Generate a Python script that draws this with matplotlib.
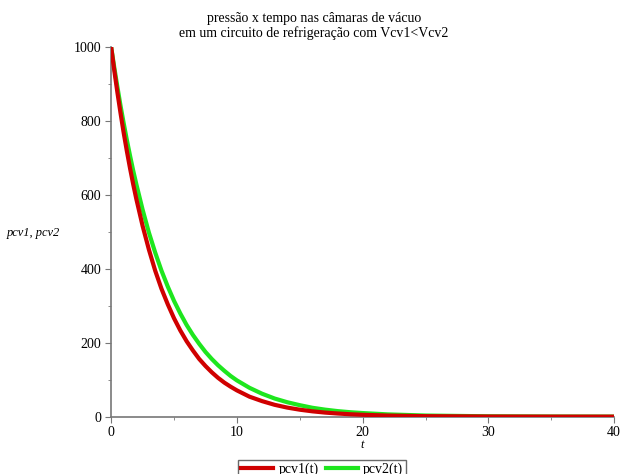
import matplotlib.pyplot as plt
from matplotlib.ticker import MultipleLocator

# values
t = [0, 0.25, 0.5, 0.75, 1, 1.25, 1.5, 1.75, 2, 2.5, 3, 3.5, 4, 4.5, 5, 5.5, 6, 6.5,
     7, 7.5, 8, 8.5, 9, 9.5, 10, 11, 12, 13, 14, 15, 16, 17, 18, 19, 20, 22, 25,
     30, 35, 40]
pcv1 = [1000, 936, 876, 820, 767, 718, 672, 629, 589, 516, 452, 395, 346, 304,
        266, 233, 204, 179, 156, 137, 120, 105, 92, 81, 71, 54, 42, 32, 24.5,
        18.8, 14.4, 11, 8.5, 6.5, 5, 2.9, 1.3, 0.35, 0.1, 0.02]
pcv2 = [1000, 944, 891, 840, 793, 748, 706, 666, 629, 560, 498, 444, 395, 352,
        313, 279, 248, 221, 197, 175, 156, 139, 124, 110, 98, 78, 62, 49, 39,
        31, 24, 19, 15, 12, 9.7, 6.1, 3, 0.95, 0.3, 0.09]

plt.rcParams['font.family'] = ['Liberation Serif', 'DejaVu Serif']

fig = plt.figure(figsize=(6.28, 4.74), dpi=100)
ax = fig.add_axes([0.177, 0.121, 0.801, 0.780])

ax.plot(t, pcv1, color='#d00000', lw=3, label='pcv1(t)', zorder=3)
ax.plot(t, pcv2, color='#1ee61e', lw=3, label='pcv2(t)', zorder=2)

ax.set_xlim(0, 40)
ax.set_ylim(0, 1000)
ax.xaxis.set_major_locator(MultipleLocator(10))
ax.xaxis.set_minor_locator(MultipleLocator(5))
ax.yaxis.set_major_locator(MultipleLocator(200))
ax.yaxis.set_minor_locator(MultipleLocator(100))

for side in ['top', 'right']:
    ax.spines[side].set_visible(False)
for side in ['left', 'bottom']:
    ax.spines[side].set_color('#777777')
    ax.spines[side].set_linewidth(1.2)
ax.tick_params(which='major', direction='out', length=4, color='#777777', labelsize=10, pad=3)
ax.tick_params(which='minor', direction='out', length=2, color='#777777')
ax.tick_params(axis='x', pad=3)

ax.set_xlabel('t', fontstyle='italic', fontsize=9, labelpad=0)
ax.set_ylabel('pcv1, pcv2', fontstyle='italic', fontsize=9, rotation=0)
ax.yaxis.set_label_coords(-0.155, 0.48)

fig.text(0.5, 0.975, 'pressão x tempo nas câmaras de vácuo\nem um circuito de refrigeração com Vcv1<Vcv2',
         ha='center', va='top', fontsize=10, linespacing=1.1)

# legend sits partly below the figure edge as in the reference
fig.legend(loc='upper center', bbox_to_anchor=(0.513, 1 - 460 / 474), ncol=2, frameon=True,
           fancybox=False, edgecolor='#444444', fontsize=10, handlelength=2.3,
           handletextpad=0.4, columnspacing=0.5, borderpad=0.2, borderaxespad=0)

fig.savefig('out.png', dpi=100)
